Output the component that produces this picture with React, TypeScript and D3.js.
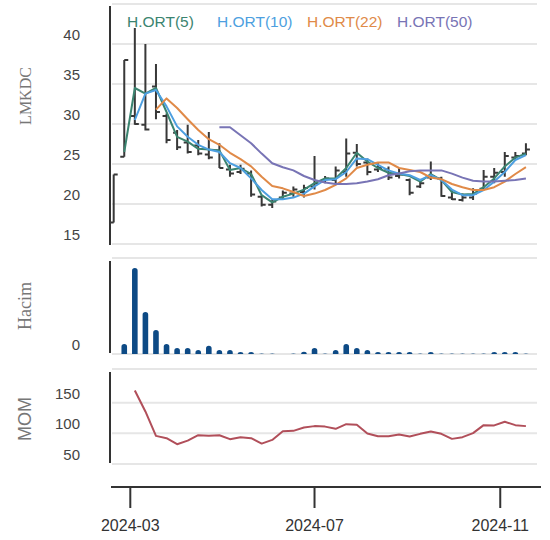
import React from "react";
import * as d3 from "d3";

// weekly bars
const dates = [
  "2024-02-19", "2024-02-26", "2024-03-04", "2024-03-11", "2024-03-18", "2024-03-25",
  "2024-04-01", "2024-04-08", "2024-04-15", "2024-04-22", "2024-04-29", "2024-05-06",
  "2024-05-13", "2024-05-20", "2024-05-27", "2024-06-03", "2024-06-10", "2024-06-17",
  "2024-06-24", "2024-07-01", "2024-07-08", "2024-07-15", "2024-07-22", "2024-07-29",
  "2024-08-05", "2024-08-12", "2024-08-19", "2024-08-26", "2024-09-02", "2024-09-09",
  "2024-09-16", "2024-09-23", "2024-09-30", "2024-10-07", "2024-10-14", "2024-10-21",
  "2024-10-28", "2024-11-04", "2024-11-11", "2024-11-18",
];

const open = [17.7, 25.9, 31.0, 29.9, 34.7, 31.0, 28.9, 27.7, 27.3, 26.2, 26.7, 24.3, 24.0, 23.8, 20.9, 19.9, 20.8, 21.3, 21.5, 22.2,
  22.8, 23.0, 24.0, 26.4, 25.2, 24.3, 24.3, 23.5, 23.0, 22.2, 23.3, 23.2, 20.8, 20.5, 20.8, 21.9, 23.4, 24.0, 25.8, 26.3];
const high = [23.7, 38.0, 42.0, 40.0, 37.5, 31.3, 29.25, 29.9, 28.0, 29.0, 27.6, 24.9, 24.9, 24.2, 21.1, 20.6, 21.7, 22.2, 22.4, 26.0,
  23.5, 24.7, 28.2, 27.5, 25.7, 25.1, 24.7, 24.5, 23.2, 22.8, 25.3, 23.4, 21.75, 21.3, 21.96, 24.25, 24.5, 26.5, 26.5, 27.6];
const low = [17.7, 25.9, 29.9, 29.2, 30.6, 27.6, 26.75, 26.3, 26.1, 25.6, 24.5, 23.4, 23.75, 20.9, 19.7, 19.5, 20.6, 20.9, 20.8, 21.8,
  22.6, 22.6, 23.4, 24.7, 23.6, 24.0, 23.0, 23.2, 21.1, 22.0, 23.0, 20.9, 20.5, 20.3, 20.5, 21.75, 22.6, 23.4, 25.5, 26.1];
const close = [23.7, 38.0, 30.0, 29.3, 31.5, 28.0, 27.1, 26.5, 26.3, 25.8, 24.5, 23.8, 24.4, 21.2, 19.9, 20.3, 21.4, 21.8, 22.0, 22.6,
  23.2, 24.2, 26.3, 25.0, 24.0, 24.5, 23.3, 23.7, 21.4, 22.6, 23.5, 21.0, 20.6, 20.8, 21.3, 23.4, 23.9, 26.0, 26.0, 26.8];

const volume = [0, 10.4, 89.6, 43.8, 25, 10.4, 6.3, 6.3, 4.2, 8.7, 4.2, 4.2, 2.1, 2.1, 0.5, 0.5, 0, 0.5, 2.4, 6.3,
  0.5, 4.2, 10.4, 6.3, 4.2, 2.1, 2.1, 2.1, 2.1, 0.5, 2.1, 0.5, 0.5, 0.5, 0.5, 0.5, 2.1, 2.1, 2.1, 0.5];

const ma5 = [null, 26.5, 34.5, 33.8, 34.5, 31.5, 28.4, 27.8, 26.9, 26.8, 26.7, 24.25, 24.5, 23.75, 21.1, 20.2, 20.9, 21.3, 21.8, 22.6,
  23.2, 23.2, 24.5, 26.4, 25.3, 24.5, 23.9, 23.75, 23.5, 22.8, 23.75, 23.0, 21.5, 21.2, 21.25, 22.1, 23.2, 24.7, 25.8, 26.3];
const ma10 = [null, null, 30.5, 33.8, 34.25, 32.2, 29.7, 28.4, 27.4, 26.8, 26.5, 25.1, 24.5, 23.2, 21.75, 20.6, 20.6, 20.8, 21.3, 22.2,
  23.0, 23.1, 24.0, 25.7, 25.6, 24.9, 24.2, 23.8, 23.6, 23.0, 23.6, 23.0, 21.8, 21.1, 21.1, 21.75, 22.8, 24.0, 25.5, 26.1];
const ma22 = [null, null, null, null, 31.8, 33.2, 32.0, 30.6, 29.25, 28.1, 27.4, 26.4, 25.6, 24.7, 23.4, 22.25, 21.96, 21.5, 21.0, 21.3,
  21.75, 22.4, 23.2, 24.5, 24.9, 25.2, 25.2, 24.5, 24.25, 24.0, 23.3, 23.1, 22.5, 22.1, 21.75, 21.75, 22.1, 22.8, 23.75, 24.6];
const ma50 = [null, null, null, null, null, null, null, null, null, null, 29.6, 29.6, 28.6, 27.6, 26.3, 25.1, 24.6, 24.2, 23.5, 23.0,
  22.7, 22.5, 22.5, 22.6, 22.8, 23.1, 23.6, 23.8, 24.1, 24.2, 24.2, 24.2, 23.8, 23.3, 22.9, 22.8, 22.8, 22.9, 23.0, 23.2];

const mom = [null, null, 170, 135.7, 95.9, 92.1, 82.3, 88.2, 97, 95.9, 97, 90.5, 93.8, 92.1, 83.3, 89.3, 103.6, 104.1, 109.5, 111.8,
  111, 107.4, 115, 114, 99.7, 95.4, 95.4, 98, 94.8, 99.2, 103, 99.2, 91, 93.8, 100.3, 113.4, 113, 118.9, 113.4, 111.8];

const priceGrid = [15, 20, 25, 30, 35, 40, 45];
const priceLabels = [15, 20, 25, 30, 35, 40];
const volGrid = [0, 100];
const volLabels = [0];
const momGrid = [50, 100, 150];
const xTickLabels = ["2024-03", "2024-07", "2024-11"];
const legendLabels = ["H.ORT(5)", "H.ORT(10)", "H.ORT(22)", "H.ORT(50)"];
const maColors = ["#3b8470", "#4d9fe0", "#e08a48", "#7874b5"];

const SANS = "'Liberation Sans', Arial, sans-serif";
const SERIF = "'Liberation Serif', 'Times New Roman', serif";

export default function App() {
  const parse = d3.utcParse("%Y-%m-%d");
  const t = dates.map((d) => parse(d) as Date);

  const x = d3
    .scaleUtc()
    .domain([parse("2024-03-01") as Date, parse("2024-11-01") as Date])
    .range([130.3, 500.25]);

  const yP = d3.scaleLinear().domain([15, 45]).range([244, 4]);
  const yV = d3.scaleLinear().domain([0, 100]).range([354, 258]);
  const yM = d3.scaleLinear().domain([50, 205]).range([464, 369]);

  const gx0 = 112;
  const gx1 = 537;
  const axisX = 110;

  const maSeries = [ma5, ma10, ma22, ma50];
  const line = (ys: (number | null)[], yScale: d3.ScaleLinear<number, number>) =>
    d3
      .line<number | null>()
      .defined((d) => d != null)
      .x((_, i) => x(t[i]))
      .y((d) => yScale(d as number))(ys) || "";

  const r = 2.8;
  const volPath = (cx: number, v: number) => {
    const base = yV(0);
    const top = yV(v);
    const h = base - top;
    if (h <= 0) return "";
    if (h >= r) return `M${cx - r},${base}V${top + r}A${r},${r} 0 0 1 ${cx + r},${top + r}V${base}Z`;
    return `M${cx - r},${base}A${r},${h} 0 0 1 ${cx + r},${base}Z`;
  };

  const grid = (vals: number[], s: d3.ScaleLinear<number, number>, key: string) =>
    vals.map((v) => (
      <line key={key + v} x1={gx0} x2={gx1} y1={s(v)} y2={s(v)} stroke="#e6e6e6" strokeWidth={2} />
    ));

  const labels = (vals: number[], s: d3.ScaleLinear<number, number>, key: string) =>
    vals.map((v) => (
      <text key={key + v} x={80} y={s(v) - 4} textAnchor="end" fontSize={15} fill="#444" fontFamily={SANS}>
        {v}
      </text>
    ));

  const [p0, p1] = yP.range();
  const [v0, v1] = yV.range();
  const [m0, m1] = yM.range();

  return (
    <svg width={550} height={540} style={{ position: "absolute", left: 0, top: 0, background: "#fff" }}>
      {/* price panel */}
      {grid(priceGrid, yP, "pg")}
      {labels(priceLabels, yP, "pl")}
      <line x1={axisX} x2={axisX} y1={p1 + 2} y2={p0 + 1} stroke="#333" strokeWidth={2} />
      <text
        transform={`translate(31,96) rotate(-90)`}
        textAnchor="middle"
        fontSize={16}
        fill="#777"
        fontFamily={SERIF}
      >
        LMKDC
      </text>
      <g stroke="#383838" strokeWidth={2} fill="none">
        {t.map((d, i) => {
          const cx = x(d);
          return (
            <path
              key={"b" + i}
              d={`M${cx},${yP(high[i])}V${yP(low[i])}M${cx - 4},${yP(open[i])}H${cx}M${cx},${yP(close[i])}H${cx + 4}`}
            />
          );
        })}
      </g>
      {maSeries.map((s, k) => (
        <path key={"ma" + k} d={line(s, yP)} fill="none" stroke={maColors[k]} strokeWidth={2} strokeLinejoin="round" />
      ))}
      {legendLabels.map((l, k) => (
        <text key={"lg" + k} x={127 + k * 90} y={26.5} fontSize={15.5} fill={maColors[k]} fontFamily={SANS}>
          {l}
        </text>
      ))}

      {/* volume panel */}
      {grid(volGrid, yV, "vg")}
      {labels(volLabels, yV, "vl")}
      <line x1={axisX} x2={axisX} y1={v1 + 3} y2={v0 - 1} stroke="#333" strokeWidth={2} />
      <text transform={`translate(31,306) rotate(-90)`} textAnchor="middle" fontSize={18} fill="#777" fontFamily={SERIF}>
        Hacim
      </text>
      {t.map((d, i) => (
        <path key={"v" + i} d={volPath(x(d), volume[i])} fill="#0d4a85" />
      ))}

      {/* momentum panel */}
      <line x1={gx0} x2={gx1} y1={m1} y2={m1} stroke="#e6e6e6" strokeWidth={2} />
      {grid(momGrid, yM, "mg")}
      {labels(momGrid, yM, "ml")}
      <line x1={axisX} x2={axisX} y1={m1 + 3} y2={m0 - 1} stroke="#333" strokeWidth={2} />
      <text transform={`translate(31,419) rotate(-90)`} textAnchor="middle" fontSize={18} fill="#777" fontFamily={SANS}>
        MOM
      </text>
      <path d={line(mom, yM)} fill="none" stroke="#b14f5a" strokeWidth={2} strokeLinejoin="round" />

      {/* x axis */}
      <line x1={111} x2={541} y1={487} y2={487} stroke="#333" strokeWidth={2} />
      {xTickLabels.map((l) => {
        const cx = x(parse(l + "-01") as Date);
        return (
          <g key={l}>
            <line x1={cx} x2={cx} y1={487} y2={508} stroke="#333" strokeWidth={2} />
            <text x={cx} y={531} textAnchor="middle" fontSize={16} fill="#333" fontFamily={SANS}>
              {l}
            </text>
          </g>
        );
      })}
    </svg>
  );
}
